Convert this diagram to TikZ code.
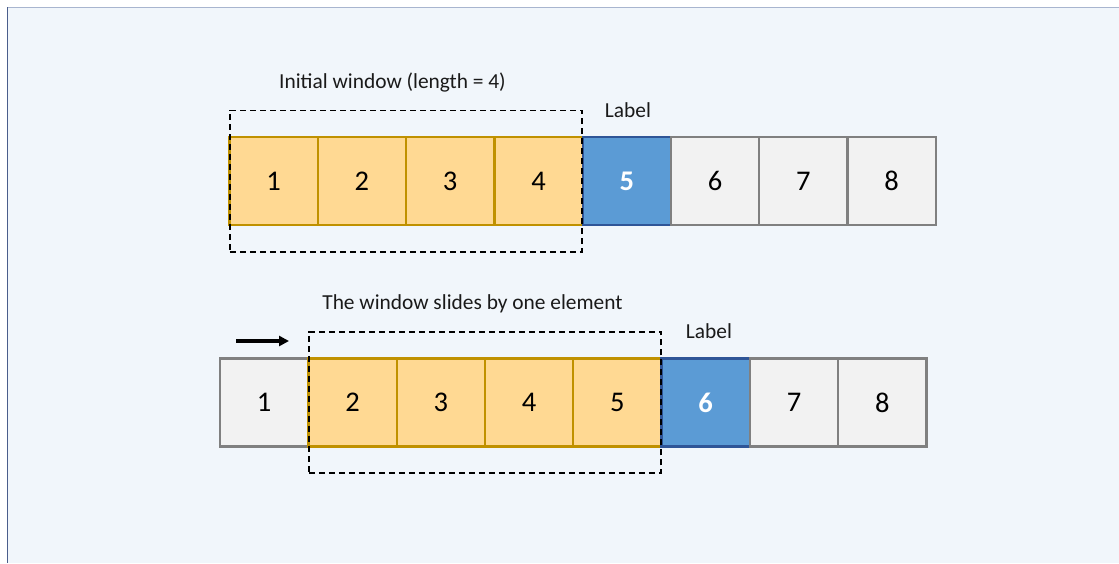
\documentclass[tikz,border=0pt]{standalone}
\usepackage{fontspec}
\setmainfont{Carlito}
\usetikzlibrary{fit,arrows.meta}
\definecolor{bgpanel}{HTML}{F1F6FB}
\definecolor{topline}{HTML}{A8B5CF}
\definecolor{leftline}{HTML}{4A5E8C}
\definecolor{winfill}{HTML}{FFD993}
\definecolor{windraw}{HTML}{C09100}
\definecolor{labfill}{HTML}{5B9BD5}
\definecolor{labdraw}{HTML}{2F5597}
\definecolor{restfill}{HTML}{F2F2F2}
\definecolor{restdraw}{HTML}{808080}
\definecolor{txt}{HTML}{1A1A1A}
\tikzset{
  cell/.style={draw, line width=2.3pt, minimum width=88.3pt, minimum height=88pt, inner sep=0pt,
    font=\fontsize{28.5}{28.5}\selectfont, text=black},
  wincell/.style={cell, fill=winfill, draw=windraw},
  labcell/.style={cell, fill=labfill, draw=labdraw, text=white, font=\fontsize{28.5}{28.5}\selectfont\bfseries},
  restcell/.style={cell, fill=restfill, draw=restdraw},
  window/.style={draw=black, dash pattern=on 6pt off 4pt, line width=1.7pt, inner xsep=-1.6pt, inner ysep=25.5pt},
  caption/.style={font=\fontsize{21.4}{21.4}\selectfont, text=txt, inner sep=0pt},
}
\begin{document}
\begin{tikzpicture}[x=1pt,y=-1pt]
\useasboundingbox (0,0) rectangle (1119,563);
\fill[white] (0,0) rectangle (1119,563);
\fill[bgpanel] (7,7) rectangle (1119,563);
\draw[topline, line width=1.3pt] (7,7.6) -- (1119,7.6);
\draw[leftline, line width=1.3pt] (7.6,7) -- (7.6,563);

% top row
\node[wincell] (t1) at (273.6,181) {1};
\node[wincell] (t2) at (361.9,181) {2};
\node[wincell] (t3) at (450.2,181) {3};
\node[wincell] (t4) at (538.5,181) {4};
\node[labcell] (t5) at (626.8,181) {5};
\node[restcell] (t6) at (715.1,181) {6};
\node[restcell] (t7) at (803.4,181) {7};
\node[restcell] (t8) at (891.7,181) {8};
\node[window, fit=(t1)(t4)] (w1) {};
\node[caption] (c1) at (392.5,83) {Initial window (length = 4)};
\node[caption] (l1) at (628,110) {Label};

% bottom row
\node[restcell] (b1) at (264.2,402.5) {1};
\node[wincell] (b2) at (352.5,402.5) {2};
\node[wincell] (b3) at (440.8,402.5) {3};
\node[wincell] (b4) at (529.1,402.5) {4};
\node[wincell] (b5) at (617.4,402.5) {5};
\node[labcell] (b6) at (705.7,402.5) {6};
\node[restcell] (b7) at (794.0,402.5) {7};
\node[restcell] (b8) at (882.3,402.5) {8};
\node[window, fit=(b2)(b5)] (w2) {};
\node[caption] (c2) at (472.5,304) {The window slides by one element};
\node[caption] (l2) at (709,331) {Label};

\coordinate (as) at (236,341);
\coordinate (ae) at (289,341);
\draw[line width=3.2pt, -{Triangle[length=10pt,width=10pt]}] (as) -- (ae);
\end{tikzpicture}
\end{document}
